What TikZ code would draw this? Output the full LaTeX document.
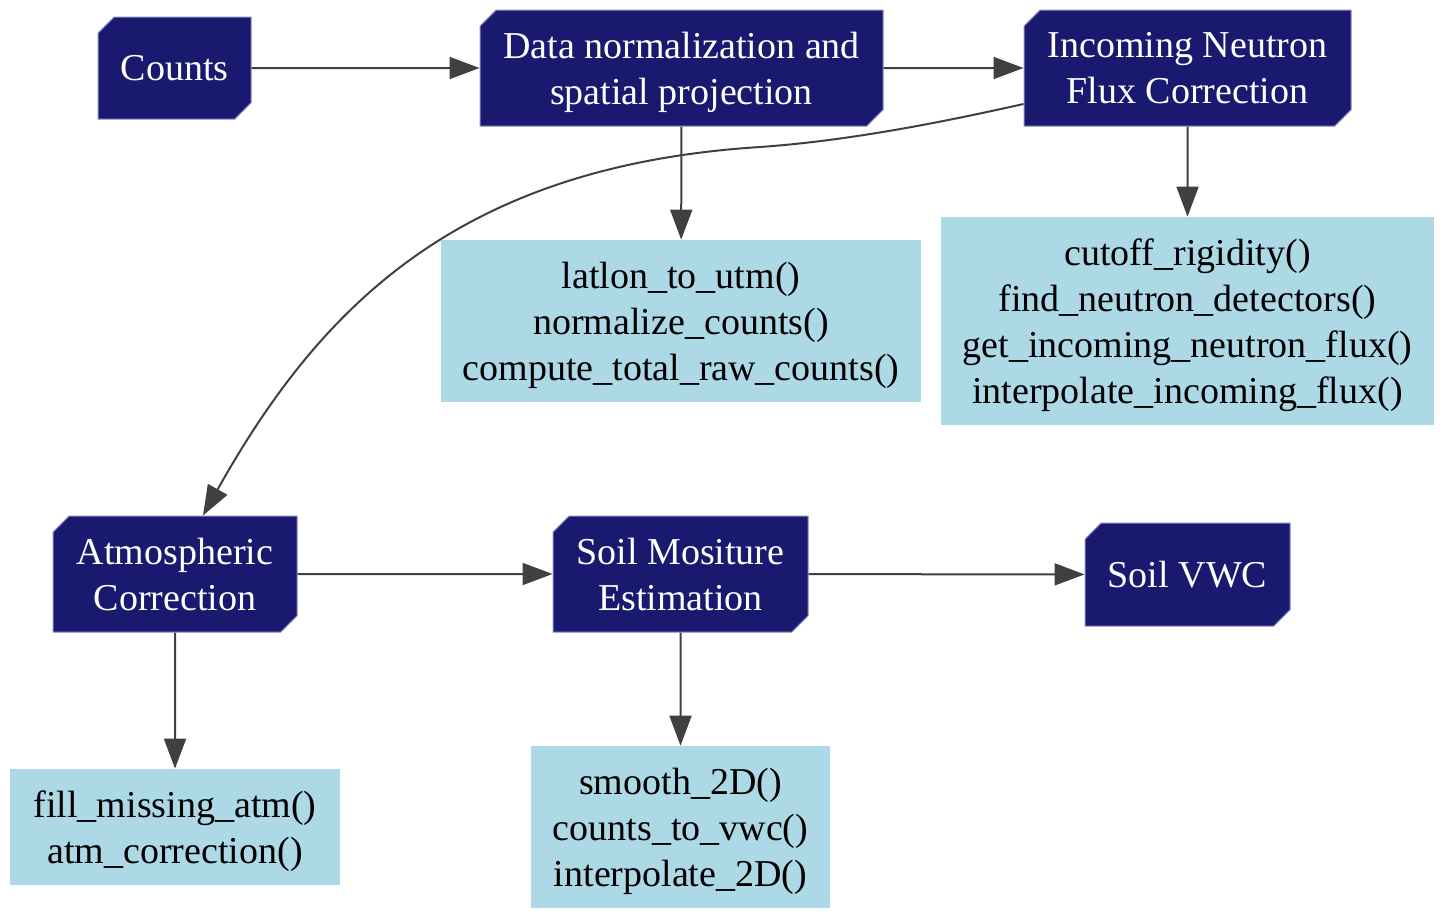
\documentclass[tikz,border=0pt]{standalone}
\usepackage{fontspec}
\setmainfont{Liberation Serif}
\usetikzlibrary{arrows.meta,shapes.misc}
\definecolor{stepblue}{HTML}{191970}
\definecolor{stepedge}{HTML}{8A8AC0}
\definecolor{fnblue}{HTML}{ADD8E6}
\definecolor{linkgray}{HTML}{404040}
\begin{document}
\begin{tikzpicture}[x=0.5pt, y=-0.5pt, >={Triangle[length=15pt,width=11pt]},
  stage/.style={chamfered rectangle, chamfered rectangle corners={north west,south east},
    chamfered rectangle xsep=5pt, fill=stepblue, draw=stepedge, line width=0.5pt,
    text=white, align=center, inner sep=0pt, text depth=0pt, font=\fontsize{19}{23}\selectfont},
  fnbox/.style={rectangle, fill=fnblue, align=center, inner sep=0pt, text depth=0pt,
    font=\fontsize{19}{23}\selectfont},
  link/.style={->, draw=linkgray, line width=1pt}]
\useasboundingbox (0,0) rectangle (1444,918);

% pipeline stages
\node[stage, minimum width=76.5pt, minimum height=51pt] (counts) at (174.5,68) {Counts};
\node[stage, minimum width=201.5pt, minimum height=58pt] (norm) at (681.5,68) {Data normalization and\\spatial projection};
\node[stage, minimum width=163.5pt, minimum height=58pt] (flux) at (1187.5,68) {Incoming Neutron\\Flux Correction};
\node[stage, minimum width=122pt, minimum height=58pt] (atm) at (175,574) {Atmospheric\\Correction};
\node[stage, minimum width=127.5pt, minimum height=58pt] (soil) at (680.5,574) {Soil Mositure\\Estimation};
\node[stage, minimum width=102.5pt, minimum height=51.5pt] (vwc) at (1187.5,574.5) {Soil VWC};

% functions
\node[fnbox, minimum width=240pt, minimum height=81pt] (normfn) at (681,321) {latlon\_to\_utm()\\normalize\_counts()\\compute\_total\_raw\_counts()};
\node[fnbox, minimum width=246.5pt, minimum height=104pt] (fluxfn) at (1187.5,321) {cutoff\_rigidity()\\find\_neutron\_detectors()\\get\_incoming\_neutron\_flux()\\interpolate\_incoming\_flux()};
\node[fnbox, minimum width=165pt, minimum height=58pt] (atmfn) at (175,827) {fill\_missing\_atm()\\atm\_correction()};
\node[fnbox, minimum width=149.5pt, minimum height=81pt] (soilfn) at (680.5,827) {smooth\_2D()\\counts\_to\_vwc()\\interpolate\_2D()};

\draw[link] (counts) -- (norm);
\draw[link] (norm) -- (flux);
\draw[link] (norm) -- (normfn);
\draw[link] (flux) -- (fluxfn);
\draw[link] ([yshift=-18pt]flux.west) .. controls (965,117) and (860,140) .. (760,147)
  .. controls (460,166) and (321,305) .. ([xshift=14pt]atm.north);
\draw[link] (atm) -- (soil);
\draw[link] (soil) -- (vwc);
\draw[link] (atm) -- (atmfn);
\draw[link] (soil) -- (soilfn);
\end{tikzpicture}
\end{document}
